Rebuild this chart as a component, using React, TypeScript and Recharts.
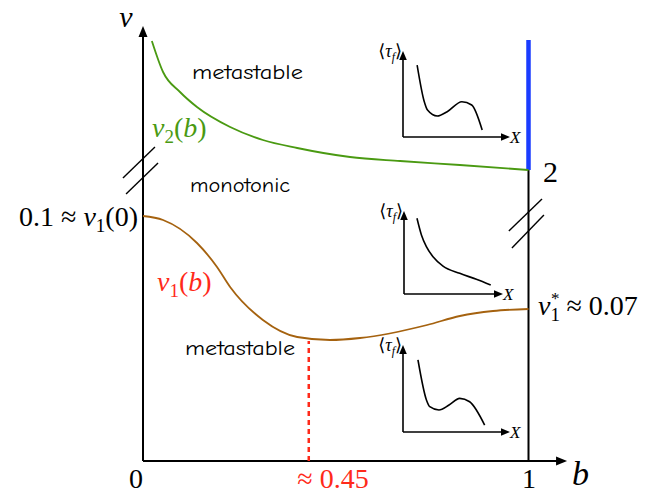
import React from 'react';
import { ComposedChart, LineChart, Line, XAxis, YAxis, ReferenceLine, ReferenceDot } from 'recharts';

// ---- main diagram data (b on the horizontal axis, schematic nu on the vertical axis) ----
const nu2B = [0.023, 0.052, 0.096, 0.14, 0.226, 0.311, 0.4, 0.537, 0.667, 0.822, 1.0];
const nu2V = [42.0, 38.9, 36.9, 35.4, 33.4, 32.1, 31.3, 30.4, 30.0, 29.6, 29.1];
const nu1B = [0, 0.052, 0.14, 0.192, 0.226, 0.311, 0.4, 0.485, 0.563, 0.737, 0.822, 0.908, 1.0];
const nu1V = [24.5, 24.1, 21.8, 19.4, 17.4, 14.1, 12.4, 12.1, 12.3, 13.6, 14.5, 15.0, 15.2];
const bCritical = 0.43;
const nu1AtCritical = 12.0;
const nu2AtOne = 29.1;
const blueTop = 42.1;
const bTickLabels = ['0', '≈ 0.45', '1'];

// ---- inset curves <tau_f>(X), unit axes ----
const inset1X = [0.132, 0.199, 0.229, 0.321, 0.413, 0.55, 0.642, 0.74];
const inset1Y = [0.837, 0.41, 0.314, 0.244, 0.294, 0.41, 0.372, 0.081];
const inset2X = [0.131, 0.176, 0.226, 0.293, 0.394, 0.563, 0.731, 0.876];
const inset2Y = [0.912, 0.711, 0.57, 0.449, 0.337, 0.249, 0.177, 0.108];
const inset3X = [0.14, 0.219, 0.25, 0.336, 0.43, 0.53, 0.623, 0.763];
const inset3Y = [0.828, 0.368, 0.291, 0.253, 0.31, 0.387, 0.348, 0.08];

const zip = (xs: number[], ys: number[], kx: string, ky: string) =>
  xs.map((x, i) => ({ [kx]: x, [ky]: ys[i] }));

const nu2Data = zip(nu2B, nu2V, 'b', 'v');
const nu1Data = zip(nu1B, nu1V, 'b', 'v');

const MATH = '"Liberation Serif", "DejaVu Serif", serif';
const COMIC = '"Comic Sans MS", "Comic Neue", "Open Sans", sans-serif';
const GREEN = '#4a9a12';
const BROWN = '#a5620f';
const RED = '#ff2a1a';
const BLUE = '#1a3cff';

const mathStyle = (size: number, italic = false): React.CSSProperties => ({
  fontFamily: MATH,
  fontSize: size,
  fontStyle: italic ? 'italic' : 'normal',
});

// canvas mapping: whole 646x493 picture is the plot area
const B_MIN = -143 / 385.5;
const B_MAX = (646 - 143) / 385.5;
const V_MIN = -3.2;
const V_MAX = 46.1;

function Inset({ ox, oy, w, h, xs, ys }: { ox: number; oy: number; w: number; h: number; xs: number[]; ys: number[] }) {
  const m = { top: 14, right: 24, bottom: 12, left: 40 };
  const data = zip(xs, ys, 'x', 'y');
  return (
    <div style={{ position: 'absolute', left: ox - m.left, top: oy - h - m.top }}>
      <LineChart width={w + m.left + m.right} height={h + m.top + m.bottom} data={data} margin={m}>
        <XAxis dataKey="x" type="number" domain={[0, 1]} hide allowDataOverflow />
        <YAxis dataKey="y" type="number" domain={[0, 1]} hide allowDataOverflow />
        <ReferenceLine segment={[{ x: 0, y: 0 }, { x: 0, y: 1 - 4 / h }]} stroke="#000" strokeWidth={1.6} ifOverflow="visible" />
        <ReferenceLine segment={[{ x: 0, y: 0 }, { x: 1 - 4 / w, y: 0 }]} stroke="#000" strokeWidth={1.6} ifOverflow="visible" />
        <ReferenceDot x={0} y={1} r={1} ifOverflow="visible"
          shape={(p: any) => <polygon points={`${p.cx},${p.cy} ${p.cx - 3.8},${p.cy + 9} ${p.cx + 3.8},${p.cy + 9}`} fill="#000" />} />
        <ReferenceDot x={1} y={0} r={1} ifOverflow="visible"
          shape={(p: any) => <polygon points={`${p.cx},${p.cy} ${p.cx - 9},${p.cy - 3.8} ${p.cx - 9},${p.cy + 3.8}`} fill="#000" />} />
        <ReferenceDot x={0} y={1} r={1} ifOverflow="visible"
          shape={(p: any) => (
            <text x={p.cx - 1} y={p.cy + 6} textAnchor="end" style={mathStyle(18)} fill="#000">
              <tspan>⟨</tspan><tspan style={{ fontStyle: 'italic' }}>τ</tspan><tspan style={{ fontStyle: 'italic', fontSize: 12 }} dy={4}>f</tspan><tspan dy={-4}>⟩</tspan>
            </text>
          )} />
        <ReferenceDot x={1} y={0} r={1} ifOverflow="visible"
          shape={(p: any) => (
            <text x={p.cx} y={p.cy + 6} style={mathStyle(17, true)} fill="#000">X</text>
          )} />
        <Line dataKey="y" type="monotone" stroke="#000" strokeWidth={1.6} dot={false} activeDot={false} isAnimationActive={false} />
      </LineChart>
    </div>
  );
}

export default function App() {
  return (
    <div style={{ position: 'absolute', left: 0, top: 0, width: 646, height: 493, background: '#fff' }}>
      <ComposedChart width={646} height={493} margin={{ top: 0, right: 0, bottom: 0, left: 0 }}>
        <XAxis dataKey="b" type="number" domain={[B_MIN, B_MAX]} hide allowDataOverflow />
        <YAxis dataKey="v" type="number" domain={[V_MIN, V_MAX]} hide allowDataOverflow />

        {/* axes */}
        <ReferenceLine segment={[{ x: 0, y: 0 }, { x: 0, y: 43.0 }]} stroke="#000" strokeWidth={2} />
        <ReferenceLine segment={[{ x: 0, y: 0 }, { x: 1.09, y: 0 }]} stroke="#000" strokeWidth={2} />
        <ReferenceDot x={0} y={43.5} r={1}
          shape={(p: any) => <polygon points={`${p.cx},${p.cy} ${p.cx - 4.5},${p.cy + 11} ${p.cx + 4.5},${p.cy + 11}`} fill="#000" />} />
        <ReferenceDot x={1.1} y={0} r={1}
          shape={(p: any) => <polygon points={`${p.cx},${p.cy} ${p.cx - 11},${p.cy - 4.5} ${p.cx - 11},${p.cy + 4.5}`} fill="#000" />} />

        {/* b = 1 boundary */}
        <ReferenceLine segment={[{ x: 1, y: 0 }, { x: 1, y: nu2AtOne }]} stroke="#000" strokeWidth={2} />
        <ReferenceLine segment={[{ x: 1, y: nu2AtOne }, { x: 1, y: blueTop }]} stroke={BLUE} strokeWidth={4.5} />

        {/* axis breaks */}
        <ReferenceLine segment={[{ x: -0.052, y: 28.3 }, { x: 0.031, y: 31.4 }]} stroke="#000" strokeWidth={1.4} />
        <ReferenceLine segment={[{ x: -0.044, y: 26.7 }, { x: 0.039, y: 29.8 }]} stroke="#000" strokeWidth={1.4} />
        <ReferenceLine segment={[{ x: 0.949, y: 23.0 }, { x: 1.035, y: 26.2 }]} stroke="#000" strokeWidth={1.4} />
        <ReferenceLine segment={[{ x: 0.957, y: 21.3 }, { x: 1.04, y: 24.6 }]} stroke="#000" strokeWidth={1.4} />

        {/* critical b */}
        <ReferenceLine segment={[{ x: bCritical, y: 0 }, { x: bCritical, y: nu1AtCritical }]} stroke={RED} strokeWidth={2.5} strokeDasharray="5 4" />

        <Line data={nu2Data} dataKey="v" type="monotone" stroke={GREEN} strokeWidth={1.8} dot={false} activeDot={false} isAnimationActive={false} />
        <Line data={nu1Data} dataKey="v" type="monotone" stroke={BROWN} strokeWidth={1.8} dot={false} activeDot={false} isAnimationActive={false} />

        {/* labels */}
        <ReferenceDot x={-0.044} y={43.4} r={1}
          shape={(p: any) => <text x={p.cx} y={p.cy} textAnchor="middle" style={mathStyle(30, true)} fill="#000">ν</text>} />
        <ReferenceDot x={-0.013} y={23.5} r={1}
          shape={(p: any) => (
            <text x={p.cx} y={p.cy} textAnchor="end" style={mathStyle(28)} fill="#000">
              0.1 ≈ <tspan style={{ fontStyle: 'italic' }}>ν</tspan><tspan style={{ fontSize: 19 }} dy={6}>1</tspan><tspan dy={-6}>(0)</tspan>
            </text>
          )} />
        <ReferenceDot x={0.0233} y={32.4} r={1}
          shape={(p: any) => (
            <text x={p.cx} y={p.cy} style={mathStyle(28)} fill={GREEN}>
              <tspan style={{ fontStyle: 'italic' }}>ν</tspan><tspan style={{ fontSize: 19 }} dy={6}>2</tspan><tspan dy={-6}>(</tspan><tspan style={{ fontStyle: 'italic' }}>b</tspan><tspan>)</tspan>
            </text>
          )} />
        <ReferenceDot x={0.0363} y={17.0} r={1}
          shape={(p: any) => (
            <text x={p.cx} y={p.cy} style={mathStyle(28)} fill={RED}>
              <tspan style={{ fontStyle: 'italic' }}>ν</tspan><tspan style={{ fontSize: 19 }} dy={6}>1</tspan><tspan dy={-6}>(</tspan><tspan style={{ fontStyle: 'italic' }}>b</tspan><tspan>)</tspan>
            </text>
          )} />
        <ReferenceDot x={1.0376} y={27.9} r={1}
          shape={(p: any) => <text x={p.cx} y={p.cy} style={mathStyle(30)} fill="#000">2</text>} />
        <ReferenceDot x={1.0246} y={14.6} r={1}
          shape={(p: any) => (
            <text x={p.cx} y={p.cy} style={mathStyle(28)} fill="#000">
              <tspan style={{ fontStyle: 'italic' }}>ν</tspan><tspan style={{ fontSize: 19 }} dy={6}>1</tspan><tspan style={{ fontSize: 17 }} dx={-9} dy={-17}>*</tspan><tspan dy={11}>{'\u00A0≈ 0.07'}</tspan>
            </text>
          )} />
        <ReferenceDot x={-0.018} y={-2.7} r={1}
          shape={(p: any) => <text x={p.cx} y={p.cy} textAnchor="middle" style={mathStyle(28)} fill="#000">{bTickLabels[0]}</text>} />
        <ReferenceDot x={0.493} y={-2.7} r={1}
          shape={(p: any) => <text x={p.cx} y={p.cy} textAnchor="middle" style={mathStyle(28)} fill={RED}>{bTickLabels[1]}</text>} />
        <ReferenceDot x={1.001} y={-2.7} r={1}
          shape={(p: any) => <text x={p.cx} y={p.cy} textAnchor="middle" style={mathStyle(28)} fill="#000">{bTickLabels[2]}</text>} />
        <ReferenceDot x={1.113} y={-2.4} r={1}
          shape={(p: any) => <text x={p.cx} y={p.cy} style={mathStyle(34, true)} fill="#000">b</text>} />

        <ReferenceDot x={0.127} y={38.2} r={1}
          shape={(p: any) => <text x={p.cx} y={p.cy} style={{ fontFamily: COMIC, fontSize: 20 }} textLength={111} lengthAdjust="spacingAndGlyphs" fill="#000">metastable</text>} />
        <ReferenceDot x={0.122} y={26.9} r={1}
          shape={(p: any) => <text x={p.cx} y={p.cy} style={{ fontFamily: COMIC, fontSize: 20 }} textLength={100} lengthAdjust="spacingAndGlyphs" fill="#000">monotonic</text>} />
        <ReferenceDot x={0.109} y={10.6} r={1}
          shape={(p: any) => <text x={p.cx} y={p.cy} style={{ fontFamily: COMIC, fontSize: 20 }} textLength={110} lengthAdjust="spacingAndGlyphs" fill="#000">metastable</text>} />
      </ComposedChart>

      <Inset ox={403} oy={137} w={107} h={86} xs={inset1X} ys={inset1Y} />
      <Inset ox={404} oy={294} w={99} h={83} xs={inset2X} ys={inset2Y} />
      <Inset ox={403} oy={432} w={107} h={87} xs={inset3X} ys={inset3Y} />
    </div>
  );
}
